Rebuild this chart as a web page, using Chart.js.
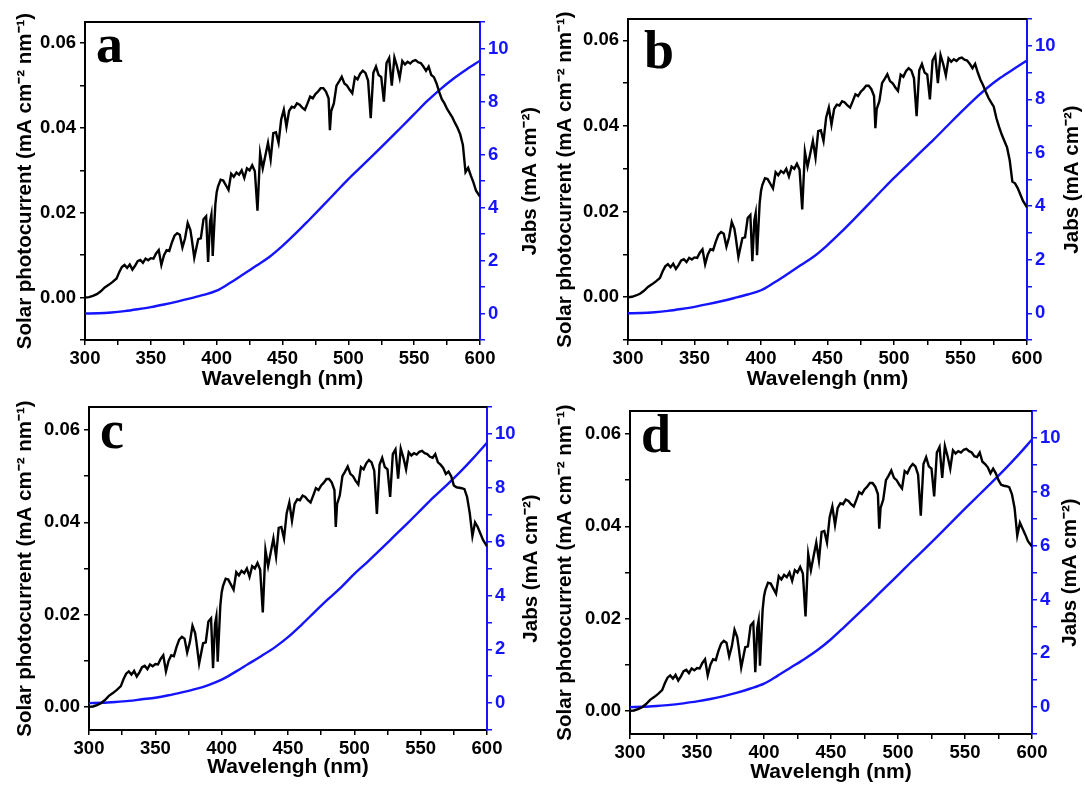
<!DOCTYPE html>
<html>
<head>
<meta charset="utf-8">
<script src="https://cdn.jsdelivr.net/npm/chart.js@4.4.1/dist/chart.umd.min.js"></script>
<style>
  body { margin: 0; background: #fff; width: 1085px; height: 785px; position: relative; overflow: hidden; }
  canvas { position: absolute; }
</style>
</head>
<body>
<canvas id="pa" width="540" height="395" style="left:0px;top:0px"></canvas>
<canvas id="pb" width="545" height="395" style="left:540px;top:0px"></canvas>
<canvas id="pc" width="540" height="395" style="left:0px;top:390px"></canvas>
<canvas id="pd" width="545" height="395" style="left:540px;top:390px"></canvas>
<script>
// wavelength grid (nm) for the solar photocurrent curves
const wavelength = [
  300,303,306,309,312,315,318,321,324,326,
  328,330,332,334,336,338,340,342,344,346,
  348,350,352,354,356,358,360,362,364,366,
  368,370,372,374,376,378,380,381,383,386,
  388,390,392,393.5,395,396,397,398,399,400,
  401,403,405,407,409,411,413,415,417,419,
  421,423,425,427,429,431,433,435,437,439,
  441,443,445,447,449,451,453,455,457,459,
  461,463,465,467,469,471,473,475,477,479,
  481,483,485,486,487,489,491,493,495,497,
  499,501,503,505,507,509,511,513,515,517,
  519,521,523,525,527,529,531,533,535,537,
  539,541,543,545,547,549,551,553,555,557,
  559,561,563,565,567,569,571,573,575,577,
  579,581,583,585,587,589,591,593,595,597,
  600
];

// solar photocurrent (mA cm-2 nm-1), panels a-d
const photoA = [
  0.0000,0.0001,0.0004,0.0008,0.0015,0.0024,0.0030,0.0037,0.0045,0.0060,
  0.0072,0.0077,0.0070,0.0078,0.0066,0.0075,0.0086,0.0089,0.0082,0.0092,
  0.0088,0.0093,0.0092,0.0104,0.0112,0.0077,0.0100,0.0112,0.0110,0.0130,
  0.0146,0.0152,0.0148,0.0118,0.0140,0.0176,0.0160,0.0140,0.0094,0.0138,
  0.0140,0.0185,0.0192,0.0084,0.0180,0.0196,0.0098,0.0160,0.0220,0.0248,
  0.0262,0.0278,0.0276,0.0265,0.0254,0.0292,0.0285,0.0295,0.0290,0.0300,
  0.0282,0.0305,0.0300,0.0312,0.0298,0.0205,0.0340,0.0305,0.0335,0.0365,
  0.0326,0.0388,0.0390,0.0365,0.0420,0.0443,0.0403,0.0440,0.0450,0.0448,
  0.0458,0.0455,0.0448,0.0443,0.0458,0.0474,0.0470,0.0480,0.0486,0.0494,
  0.0494,0.0486,0.0470,0.0395,0.0440,0.0458,0.0500,0.0510,0.0521,0.0505,
  0.0500,0.0490,0.0482,0.0520,0.0515,0.0528,0.0535,0.0530,0.0512,0.0423,
  0.0530,0.0545,0.0525,0.0520,0.0462,0.0553,0.0565,0.0500,0.0566,0.0545,
  0.0518,0.0558,0.0550,0.0556,0.0552,0.0558,0.0560,0.0555,0.0553,0.0545,
  0.0535,0.0545,0.0525,0.0520,0.0505,0.0485,0.0468,0.0458,0.0445,0.0435,
  0.0425,0.0412,0.0400,0.0385,0.0360,0.0296,0.0306,0.0288,0.0272,0.0252,
  0.0238
];
const photoB = [
  0.0000,0.0001,0.0004,0.0008,0.0015,0.0024,0.0030,0.0037,0.0045,0.0060,
  0.0072,0.0077,0.0070,0.0078,0.0066,0.0075,0.0086,0.0089,0.0082,0.0092,
  0.0088,0.0093,0.0092,0.0104,0.0112,0.0077,0.0100,0.0112,0.0110,0.0130,
  0.0146,0.0152,0.0148,0.0118,0.0140,0.0176,0.0160,0.0140,0.0094,0.0138,
  0.0140,0.0185,0.0192,0.0084,0.0180,0.0196,0.0098,0.0160,0.0220,0.0248,
  0.0262,0.0278,0.0276,0.0265,0.0254,0.0292,0.0285,0.0295,0.0290,0.0300,
  0.0282,0.0305,0.0300,0.0312,0.0298,0.0205,0.0340,0.0305,0.0335,0.0365,
  0.0326,0.0388,0.0390,0.0365,0.0420,0.0443,0.0403,0.0440,0.0450,0.0448,
  0.0458,0.0455,0.0448,0.0443,0.0458,0.0474,0.0470,0.0480,0.0486,0.0494,
  0.0494,0.0486,0.0470,0.0395,0.0440,0.0458,0.0500,0.0510,0.0521,0.0505,
  0.0500,0.0490,0.0482,0.0520,0.0515,0.0528,0.0535,0.0530,0.0512,0.0423,
  0.0530,0.0545,0.0525,0.0520,0.0462,0.0553,0.0565,0.0500,0.0566,0.0545,
  0.0518,0.0558,0.0550,0.0556,0.0552,0.0558,0.0560,0.0555,0.0553,0.0545,
  0.0535,0.0545,0.0525,0.0508,0.0495,0.0480,0.0466,0.0455,0.0445,0.0418,
  0.0398,0.0380,0.0365,0.0350,0.0320,0.0270,0.0266,0.0255,0.0240,0.0225,
  0.0210
];
const photoC = [
  0.0000,0.0001,0.0004,0.0008,0.0015,0.0024,0.0030,0.0037,0.0045,0.0060,
  0.0072,0.0077,0.0070,0.0078,0.0066,0.0075,0.0086,0.0089,0.0082,0.0092,
  0.0088,0.0093,0.0092,0.0104,0.0112,0.0077,0.0100,0.0112,0.0110,0.0130,
  0.0146,0.0152,0.0148,0.0118,0.0140,0.0176,0.0160,0.0140,0.0094,0.0138,
  0.0140,0.0185,0.0192,0.0084,0.0180,0.0196,0.0098,0.0160,0.0220,0.0248,
  0.0262,0.0278,0.0276,0.0265,0.0254,0.0292,0.0285,0.0295,0.0290,0.0300,
  0.0282,0.0305,0.0300,0.0312,0.0298,0.0205,0.0340,0.0305,0.0335,0.0365,
  0.0326,0.0388,0.0390,0.0365,0.0420,0.0443,0.0403,0.0440,0.0450,0.0448,
  0.0458,0.0455,0.0448,0.0443,0.0458,0.0474,0.0470,0.0480,0.0486,0.0494,
  0.0494,0.0486,0.0470,0.0390,0.0440,0.0458,0.0500,0.0510,0.0521,0.0505,
  0.0500,0.0490,0.0482,0.0520,0.0515,0.0528,0.0535,0.0530,0.0512,0.0418,
  0.0525,0.0540,0.0520,0.0515,0.0455,0.0548,0.0558,0.0495,0.0560,0.0540,
  0.0515,0.0552,0.0545,0.0550,0.0547,0.0553,0.0555,0.0550,0.0548,0.0542,
  0.0540,0.0548,0.0530,0.0525,0.0518,0.0505,0.0510,0.0500,0.0480,0.0476,
  0.0475,0.0474,0.0472,0.0455,0.0420,0.0370,0.0400,0.0390,0.0376,0.0362,
  0.0348
];
const photoD = [
  0.0000,0.0001,0.0004,0.0008,0.0015,0.0024,0.0030,0.0037,0.0045,0.0060,
  0.0072,0.0077,0.0070,0.0078,0.0066,0.0075,0.0086,0.0089,0.0082,0.0092,
  0.0088,0.0093,0.0092,0.0104,0.0112,0.0077,0.0100,0.0112,0.0110,0.0130,
  0.0146,0.0152,0.0148,0.0118,0.0140,0.0176,0.0160,0.0140,0.0094,0.0138,
  0.0140,0.0185,0.0192,0.0084,0.0180,0.0196,0.0098,0.0160,0.0220,0.0248,
  0.0262,0.0278,0.0276,0.0265,0.0254,0.0292,0.0285,0.0295,0.0290,0.0300,
  0.0282,0.0305,0.0300,0.0312,0.0298,0.0205,0.0340,0.0305,0.0335,0.0365,
  0.0326,0.0388,0.0390,0.0365,0.0420,0.0443,0.0403,0.0440,0.0450,0.0448,
  0.0458,0.0455,0.0448,0.0443,0.0458,0.0474,0.0470,0.0480,0.0486,0.0494,
  0.0494,0.0486,0.0470,0.0395,0.0440,0.0458,0.0500,0.0510,0.0521,0.0505,
  0.0500,0.0490,0.0482,0.0520,0.0515,0.0528,0.0535,0.0530,0.0512,0.0423,
  0.0535,0.0550,0.0530,0.0525,0.0465,0.0560,0.0572,0.0505,0.0574,0.0552,
  0.0525,0.0565,0.0558,0.0563,0.0560,0.0566,0.0568,0.0563,0.0560,0.0552,
  0.0550,0.0560,0.0540,0.0535,0.0528,0.0515,0.0525,0.0515,0.0500,0.0490,
  0.0488,0.0487,0.0485,0.0470,0.0440,0.0380,0.0408,0.0395,0.0382,0.0368,
  0.0356
];

// integrated absorbed current Jabs (mA cm-2), every 10 nm
const jWavelength = [300,310,320,330,340,350,360,370,380,390,400,410,420,430,440,450,
                     460,470,480,490,500,510,520,530,540,550,560,570,580,590,600];
const jabsA = [0,0.01,0.04,0.09,0.16,0.24,0.34,0.45,0.57,0.70,0.86,1.15,1.47,1.80,2.13,2.55,
               3.02,3.52,4.03,4.55,5.07,5.55,6.03,6.52,7.02,7.52,8.02,8.47,8.87,9.22,9.54];
const jabsB = [0,0.01,0.04,0.09,0.16,0.24,0.34,0.45,0.57,0.70,0.86,1.15,1.47,1.80,2.13,2.55,
               3.02,3.52,4.03,4.55,5.06,5.54,6.02,6.50,7.00,7.50,7.98,8.42,8.80,9.13,9.45];
const jabsC = [0,0.01,0.04,0.08,0.14,0.20,0.29,0.40,0.52,0.67,0.87,1.15,1.45,1.75,2.07,2.45,
               2.90,3.38,3.85,4.30,4.80,5.25,5.72,6.20,6.68,7.17,7.66,8.12,8.60,9.12,9.67];
const jabsD = [0,0.01,0.04,0.08,0.14,0.21,0.30,0.41,0.54,0.69,0.87,1.16,1.47,1.78,2.12,2.52,
               2.98,3.45,3.93,4.42,4.90,5.40,5.88,6.37,6.87,7.37,7.86,8.35,8.85,9.38,9.94];

// tick values for the left axis (labels only on every other one)
const leftTicks = [-0.01, 0, 0.01, 0.02, 0.03, 0.04, 0.05, 0.06];

const BLUE = "#1414ff";
const SANS = '"Liberation Sans", Arial, sans-serif';

const panels = [
  { id: "pa", letter: "a", photo: photoA, jabs: jabsA, yMin: -0.01,
    left: 85, right: 60, top: 22, bottom: 55, xTitlePad: 3, letterX: 11, letterY: 40, jTitleX: 50 },
  { id: "pb", letter: "b", photo: photoB, jabs: jabsB, yMin: -0.01,
    left: 88, right: 58, top: 19, bottom: 55, xTitlePad: 3, letterX: 16, letterY: 49, jTitleX: 45 },
  { id: "pc", letter: "c", photo: photoC, jabs: jabsC, yMin: -0.005,
    left: 89, right: 53, top: 17, bottom: 55, xTitlePad: 5, letterX: 11, letterY: 41, jTitleX: 44 },
  { id: "pd", letter: "d", photo: photoD, jabs: jabsD, yMin: -0.005,
    left: 90, right: 53, top: 21, bottom: 51, xTitlePad: 0, letterX: 11, letterY: 41, jTitleX: 38 }
];

function makePanel(p) {
  const framePlugin = {
    id: "frame",
    afterDraw(chart) {
      const { ctx, chartArea: a } = chart;
      ctx.save();
      // top frame line
      ctx.strokeStyle = "#000";
      ctx.lineWidth = 2;
      ctx.beginPath();
      ctx.moveTo(a.left - 1, a.top);
      ctx.lineTo(a.right, a.top);
      ctx.stroke();
      // panel letter
      ctx.fillStyle = "#000";
      ctx.font = 'bold 54px "Liberation Serif", "Times New Roman", serif';
      ctx.textBaseline = "alphabetic";
      ctx.textAlign = "left";
      ctx.fillText(p.letter, a.left + p.letterX, a.top + p.letterY);
      // right axis title, reads bottom to top
      ctx.translate(a.right + p.jTitleX, (a.top + a.bottom) / 2);
      ctx.rotate(-Math.PI / 2);
      ctx.textAlign = "center";
      ctx.textBaseline = "middle";
      ctx.font = "bold 20.5px " + SANS;
      ctx.fillText("Jabs (mA cm\u207B\u00B2)", 0, 0);
      ctx.restore();
    }
  };

  new Chart(document.getElementById(p.id), {
    type: "line",
    data: {
      datasets: [
        {
          label: "Solar photocurrent",
          data: wavelength.map((w, i) => ({ x: w, y: p.photo[i] })),
          yAxisID: "y",
          borderColor: "#000",
          borderWidth: 2.4,
          pointRadius: 0,
          tension: 0
        },
        {
          label: "Jabs",
          data: jWavelength.map((w, i) => ({ x: w, y: p.jabs[i] })),
          yAxisID: "y2",
          borderColor: BLUE,
          borderWidth: 2.4,
          pointRadius: 0,
          cubicInterpolationMode: "monotone"
        }
      ]
    },
    options: {
      responsive: false,
      animation: false,
      devicePixelRatio: 1,
      layout: { padding: { top: p.top, left: 0, right: 0, bottom: 0 } },
      plugins: { legend: { display: false }, tooltip: { enabled: false } },
      scales: {
        x: {
          type: "linear",
          min: 300, max: 600,
          afterFit: s => { s.height = p.bottom; },
          border: { color: "#000", width: 2 },
          grid: { drawOnChartArea: false, drawTicks: true, tickLength: 5, color: "#000", lineWidth: 1.5 },
          ticks: {
            stepSize: 25, autoSkip: false, maxRotation: 0, padding: 3,
            color: "#000", font: { family: SANS, size: 18.5, weight: "bold" },
            callback: v => (v % 50 === 0 ? v : "")
          },
          title: {
            display: true, text: "Wavelengh (nm)", color: "#000",
            font: { family: SANS, size: 21, weight: "bold" },
            padding: { top: 0, bottom: p.xTitlePad }
          }
        },
        y: {
          position: "left",
          min: p.yMin, max: 0.065,
          afterFit: s => { s.width = p.left; },
          afterBuildTicks: s => {
            s.ticks = leftTicks.filter(v => v >= p.yMin - 1e-9).map(v => ({ value: v }));
          },
          border: { color: "#000", width: 2 },
          grid: { drawOnChartArea: false, drawTicks: true, tickLength: 5, color: "#000", lineWidth: 1.5 },
          ticks: {
            padding: 4,
            color: "#000", font: { family: SANS, size: 18.5, weight: "bold" },
            callback: v => (Math.round(v * 100) % 2 === 0 ? v.toFixed(2) : "")
          },
          title: {
            display: true, text: "Solar photocurrent (mA cm\u207B\u00B2 nm\u207B\u00B9)", color: "#000",
            font: { family: SANS, size: 20.5, weight: "bold" },
            padding: { top: 13, bottom: 0 }
          }
        },
        y2: {
          position: "right",
          min: -1, max: 11,
          afterFit: s => { s.width = p.right; },
          border: { color: BLUE, width: 2 },
          grid: { drawOnChartArea: false, drawTicks: true, tickLength: 5, color: BLUE, lineWidth: 1.5 },
          ticks: {
            stepSize: 1, padding: 3,
            color: BLUE, font: { family: SANS, size: 18.5, weight: "bold" },
            callback: v => (v >= 0 && v % 2 === 0 ? v : "")
          }
        }
      }
    },
    plugins: [framePlugin]
  });
}

panels.forEach(makePanel);
</script>
</body>
</html>
